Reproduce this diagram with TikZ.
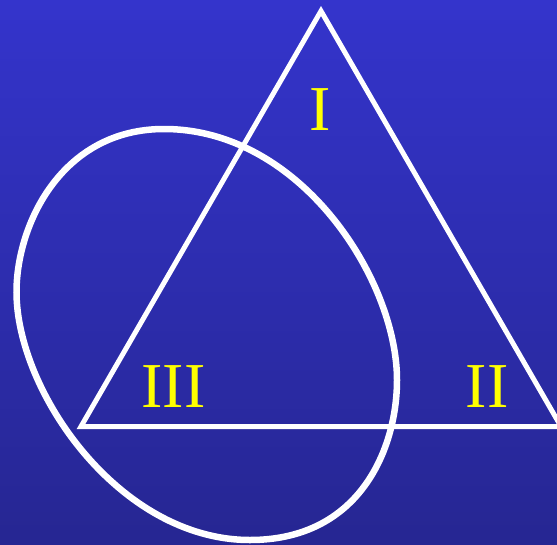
\documentclass[tikz,border=0pt]{standalone}
\usepackage{fontspec}
\setmainfont{Liberation Serif}
\definecolor{bgtop}{HTML}{3434CC}
\definecolor{bgbottom}{HTML}{262692}
\definecolor{lblyellow}{HTML}{FFFF00}

\begin{document}
\begin{tikzpicture}[
  x=1pt, y=-1pt,
  edge/.style={draw=white, line width=5pt, line join=miter},
  blob/.style={draw=white, line width=6.5pt},
  region/.style={font=\fontsize{64}{64}\selectfont, text=lblyellow, inner sep=0pt}
]

% Background
\shade[top color=bgtop, bottom color=bgbottom] (0,0) rectangle (557,544);
\useasboundingbox (0,0) rectangle (557,544);

% Triangle corners
\coordinate (apex)  at (321,11);
\coordinate (left)  at (81,426.5);
\coordinate (right) at (561,426.5);

% Closed curve (top, right, bottom, left)
\coordinate (ctop)    at (164,129);
\coordinate (cright)  at (397,380);
\coordinate (cbottom) at (250,540);
\coordinate (cleft)   at (16.5,292);
\draw[blob] (ctop) .. controls (301,129) and (397,280) .. (cright)
  .. controls (397,447) and (361,540) .. (cbottom)
  .. controls (119,540) and (16.5,391) .. (cleft)
  .. controls (16.5,224) and (62,129) .. (ctop) -- cycle;

% Triangle
\draw[edge] (apex) -- (left) -- (right) -- cycle;

% Region labels
\node[region] (r1)   at (320.5,110) {I};
\node[region] (r2)  at (487,387)   {II};
\node[region] (r3) at (173.5,386.5) {III};

\end{tikzpicture}
\end{document}
